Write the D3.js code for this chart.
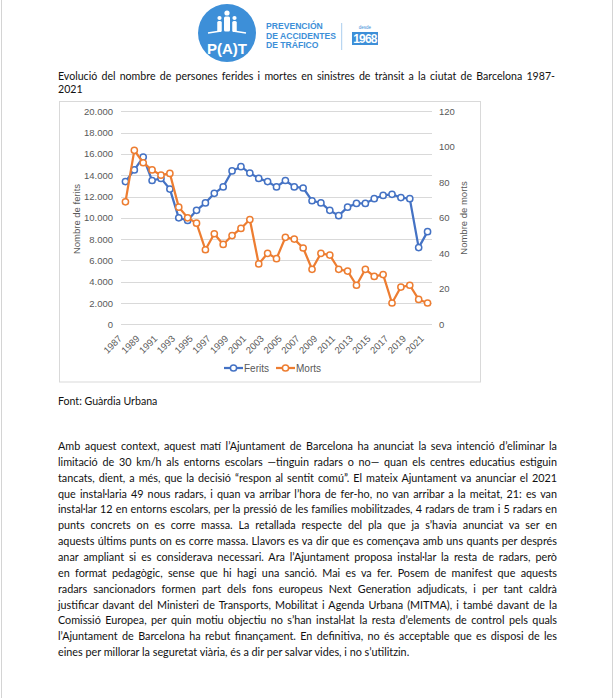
<!DOCTYPE html>
<html><head><meta charset="utf-8">
<script src="https://cdn.jsdelivr.net/npm/d3@7"></script>
<style>html,body{margin:0;padding:0;background:#fff;overflow:hidden}</style>
</head><body>
<svg id="c" width="614" height="698"></svg>
<script>
const years = ["1987","1988","1989","1990","1991","1992","1993","1994","1995","1996","1997","1998","1999","2000","2001","2002","2003","2004","2005","2006","2007","2008","2009","2010","2011","2012","2013","2014","2015","2016","2017","2018","2019","2020","2021"];
const ferits = [13400,14500,15700,13500,13700,12700,10000,9750,10700,11400,12300,12900,14400,14800,14200,13700,13400,12900,13500,12900,12800,11600,11400,10700,10200,11000,11350,11350,11800,12100,12200,11900,11800,7200,8700];
const morts = [69,98,91,87,84,85,66,60,57,42,51,45,50,54,59,34,40,37,49,48,43,31,40,39,31,30,22,31,27,28,12,21,22,14,12];
const feritsTicks = [0,2000,4000,6000,8000,10000,12000,14000,16000,18000,20000];
const mortsTicks = [0,20,40,60,80,100,120];
const yearLabels = ["1987","1989","1991","1993","1995","1997","1999","2001","2003","2005","2007","2009","2011","2013","2015","2017","2019","2021"];
const seriesNames = ["Ferits","Morts"];
const titleLines = ["Evolució del nombre de persones ferides i mortes en sinistres de trànsit a la ciutat de Barcelona 1987-","2021"];
const sourceText = "Font: Guàrdia Urbana";
const bodyLines = [
"Amb aquest context, aquest matí l’Ajuntament de Barcelona ha anunciat la seva intenció d’eliminar la",
"limitació de 30 km/h als entorns escolars —tinguin radars o no— quan els centres educatius estiguin",
"tancats, dient, a més, que la decisió “respon al sentit comú”. El mateix Ajuntament va anunciar el 2021",
"que instal·laria 49 nous radars, i quan va arribar l’hora de fer-ho, no van arribar a la meitat, 21: es van",
"instal·lar 12 en entorns escolars, per la pressió de les famílies mobilitzades, 4 radars de tram i 5 radars en",
"punts concrets on es corre massa. La retallada respecte del pla que ja s’havia anunciat va ser en",
"aquests últims punts on es corre massa. Llavors es va dir que es començava amb uns quants per després",
"anar ampliant si es considerava necessari. Ara l’Ajuntament proposa instal·lar la resta de radars, però",
"en format pedagògic, sense que hi hagi una sanció. Mai es va fer. Posem de manifest que aquests",
"radars sancionadors formen part dels fons europeus Next Generation adjudicats, i per tant caldrà",
"justificar davant del Ministeri de Transports, Mobilitat i Agenda Urbana (MITMA), i també davant de la",
"Comissió Europea, per quin motiu objectiu no s’han instal·lat la resta d’elements de control pels quals",
"l’Ajuntament de Barcelona ha rebut finançament. En definitiva, no és acceptable que es disposi de les",
"eines per millorar la seguretat viària, és a dir per salvar vides, i no s’utilitzin."
];

const svg = d3.select("#c");
const BLUE = "#4472c4", ORANGE = "#ed7d31", LOGO = "#3d8fd8";
const TXT = "Lato, 'Open Sans', sans-serif";
const AX = "'Liberation Sans', Arial, sans-serif";

svg.append("rect").attr("width",614).attr("height",698).attr("fill","#fff");
svg.append("line").attr("x1",1.5).attr("x2",1.5).attr("y1",0).attr("y2",698).attr("stroke","#d4d4d4");
svg.append("line").attr("x1",612.5).attr("x2",612.5).attr("y1",0).attr("y2",698).attr("stroke","#d4d4d4");

// ---- logo ----
const logo = svg.append("g");
logo.append("circle").attr("cx",227).attr("cy",33).attr("r",29).attr("fill",LOGO);
logo.append("line").attr("x1",208).attr("x2",221).attr("y1",33).attr("y2",31).attr("stroke","#fff").attr("stroke-width",1.4);
logo.append("line").attr("x1",233).attr("x2",246).attr("y1",31).attr("y2",33).attr("stroke","#fff").attr("stroke-width",1.4);
[[227,13,2.6,6,15],[219.5,18,2.1,4.5,11],[234.5,18,2.1,4.5,11]].forEach(([cx,cy,r,w,h])=>{
  logo.append("circle").attr("cx",cx).attr("cy",cy).attr("r",r).attr("fill","#fff");
  logo.append("rect").attr("x",cx-w/2).attr("y",cy+r+0.8).attr("width",w).attr("height",h).attr("rx",1.5).attr("fill","#fff");
});
logo.append("text").attr("x",227).attr("y",54).attr("text-anchor","middle").attr("fill","#fff")
  .attr("font-family",AX).attr("font-weight","bold").attr("font-size",15).text("P(A)T");
["PREVENCIÓN","DE ACCIDENTES","DE TRÁFICO"].forEach((t,i)=>{
  logo.append("text").attr("x",266).attr("y",29.3+i*9.5).attr("fill",LOGO)
   .attr("font-family",AX).attr("font-weight","bold").attr("font-size",8.6).text(t);
});
logo.append("line").attr("x1",341.7).attr("x2",341.7).attr("y1",23).attr("y2",50).attr("stroke","#a9cdee").attr("stroke-width",1);
logo.append("text").attr("x",365).attr("y",29).attr("text-anchor","middle").attr("fill",LOGO)
  .attr("font-family",AX).attr("font-size",4.5).text("desde");
logo.append("rect").attr("x",352).attr("y",32).attr("width",26).attr("height",13).attr("fill",LOGO);
logo.append("text").attr("x",365).attr("y",43).attr("text-anchor","middle").attr("fill","#fff")
  .attr("font-family",AX).attr("font-weight","bold").attr("font-size",12).attr("letter-spacing",-0.8).text("1968");

// ---- justified text helper ----
function jline(x, y, txt, width, size, justify){
  const t = svg.append("text").attr("x",x).attr("y",y).attr("font-family",TXT).attr("font-size",size).attr("fill","#111").text(txt);
  if (justify){
    const w = t.node().getComputedTextLength();
    const n = (txt.match(/ /g)||[]).length;
    if (n>0) t.attr("word-spacing", (width - w)/n);
  }
  return t;
}
jline(58, 79.5, titleLines[0], 497, 10.6, true);
jline(58, 92.5, titleLines[1], 0, 10.6, false);
jline(58, 404.5, sourceText, 0, 10.6, false);
bodyLines.forEach((l,i)=> jline(58, 450 + i*15.85, l, 499, 10.8, i < bodyLines.length-1));

// ---- chart ----
svg.append("rect").attr("x",59.5).attr("y",101.5).attr("width",421).attr("height",280.5).attr("fill","#fff").attr("stroke","#d9d9d9");

const x = d3.scaleBand().domain(years).range([121,432]);
const cx = d => x(d) + x.bandwidth()/2;
const yL = d3.scaleLinear().domain([0,20000]).range([324.3,111.3]);
const yR = d3.scaleLinear().domain([0,120]).range([324.3,111.3]);
const loc = d3.formatLocale({decimal:",",thousands:".",grouping:[3],currency:["","€"]});
const fmt = loc.format(",.0f");

const chart = svg.append("g");
chart.selectAll("line.grid").data(feritsTicks).join("line").attr("class","grid")
  .attr("x1",121).attr("x2",432).attr("y1",d=>Math.round(yL(d))+0.5).attr("y2",d=>Math.round(yL(d))+0.5)
  .attr("stroke","#d9d9d9").attr("stroke-width",1);

const la = chart.append("g").attr("transform","translate(121,0)")
  .call(d3.axisLeft(yL).tickValues(feritsTicks).tickFormat(fmt).tickSize(0).tickPadding(8));
const ra = chart.append("g").attr("transform","translate(432,0)")
  .call(d3.axisRight(yR).tickValues(mortsTicks).tickSize(0).tickPadding(7));
[la,ra].forEach(a=>{ a.select(".domain").remove(); a.selectAll("text").attr("font-family",AX).attr("font-size",9.5).attr("fill","#595959"); });

const xa = chart.append("g").attr("transform","translate(0,324.3)")
  .call(d3.axisBottom(x).tickValues(yearLabels).tickSize(0).tickPadding(0));
xa.select(".domain").remove();
xa.selectAll("text").attr("font-family",AX).attr("font-size",9.5).attr("fill","#595959")
  .attr("text-anchor","end").attr("dy",0).attr("y",0)
  .attr("transform","translate(-3,15) rotate(-45)");

chart.append("text").attr("transform","translate(80,219) rotate(-90)").attr("text-anchor","middle")
  .attr("font-family",AX).attr("font-size",9.5).attr("fill","#595959").text("Nombre de ferits");
chart.append("text").attr("transform","translate(467,218) rotate(-90)").attr("text-anchor","middle")
  .attr("font-family",AX).attr("font-size",9.5).attr("fill","#595959").text("Nombre de morts");

function series(vals, y, color){
  const data = years.map((d,i)=>({d, v: vals[i]}));
  chart.append("path").datum(data).attr("fill","none").attr("stroke",color).attr("stroke-width",2.25)
    .attr("stroke-linejoin","round").attr("d", d3.line().x(p=>cx(p.d)).y(p=>y(p.v)));
  chart.append("g").selectAll("circle").data(data).join("circle")
    .attr("cx",p=>cx(p.d)).attr("cy",p=>y(p.v)).attr("r",3.1)
    .attr("fill","#fff").attr("stroke",color).attr("stroke-width",1.5);
}
series(ferits, yL, BLUE);
series(morts, yR, ORANGE);

const leg = chart.append("g");
[[224,BLUE],[276,ORANGE]].forEach(([lx,col],i)=>{
  leg.append("line").attr("x1",lx).attr("x2",lx+19).attr("y1",368).attr("y2",368).attr("stroke",col).attr("stroke-width",2.25);
  leg.append("circle").attr("cx",lx+9.5).attr("cy",368).attr("r",3.1).attr("fill","#fff").attr("stroke",col).attr("stroke-width",1.5);
  leg.append("text").attr("x",lx+20).attr("y",371.5).attr("font-family",AX).attr("font-size",10).attr("fill","#595959").text(seriesNames[i]);
});
</script>
</body></html>
